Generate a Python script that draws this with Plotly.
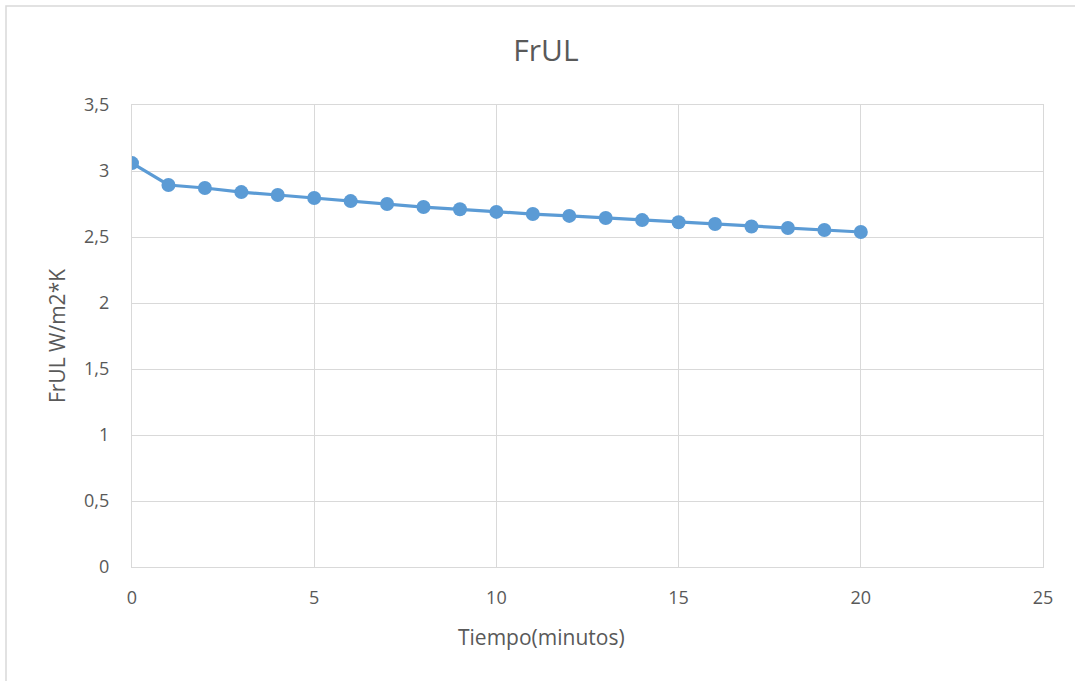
import plotly.graph_objects as go

tiempo = list(range(0, 21))
frul = [3.06, 2.894, 2.871, 2.84, 2.818, 2.795, 2.772, 2.75, 2.727, 2.71, 2.69,
        2.674, 2.66, 2.644, 2.628, 2.612, 2.598, 2.58, 2.568, 2.553, 2.538]

W, H = 1075, 681
L, R, T, B = 132, 1043, 105, 567
pw, ph = R - L, B - T

fig = go.Figure()
fig.add_trace(go.Scatter(
    x=tiempo, y=frul, mode="lines+markers",
    line=dict(color="#5B9BD5", width=3.2),
    marker=dict(color="#5B9BD5", size=14),
    showlegend=False, hoverinfo="skip"))

grey = "#d9d9d9"
txt = "#595959"
font = "Open Sans, Noto Sans, sans-serif"

fig.update_layout(
    width=W, height=H,
    margin=dict(l=L, r=W - R, t=T, b=H - B),
    paper_bgcolor="white", plot_bgcolor="white",
    font=dict(family=font, color=txt, size=18),
    title=dict(text="FrUL", x=546 / W, xref="container",
               y=1 - 50 / H, yanchor="middle", xanchor="center",
               font=dict(size=30, color=txt, family=font)),
    separators=",.",
)
fig.update_xaxes(
    range=[0, 25], dtick=5, tick0=0,
    showgrid=True, gridcolor=grey, gridwidth=1.3,
    showline=True, linecolor=grey, linewidth=1.3, mirror=True,
    zeroline=False, ticks="", ticklabelstandoff=14,
    tickfont=dict(size=18, color=txt),
)
fig.update_yaxes(
    range=[0, 3.5], dtick=0.5, tick0=0,
    showgrid=True, gridcolor=grey, gridwidth=1.3,
    showline=True, linecolor=grey, linewidth=1.3, mirror=True,
    zeroline=False, ticks="", ticklabelstandoff=18,
    tickformat=".1~f",
    tickfont=dict(size=18, color=txt),
    title=dict(text="FrUL W/m2*K", font=dict(size=21, color=txt), standoff=12),
)

# x-axis title (offset left like the original)
fig.add_annotation(text="Tiempo(minutos)", xref="paper", yref="paper",
                   x=(541 - L) / pw, y=-(637 - B) / ph,
                   xanchor="center", yanchor="middle", showarrow=False,
                   font=dict(size=21, color=txt, family=font))

# outer chart frame (left and top edges visible)
fig.add_shape(type="rect", xref="paper", yref="paper",
              x0=(6 - L) / pw, x1=(1090 - L) / pw,
              y0=-(700 - B) / ph, y1=1 + (T - 6) / ph,
              line=dict(color=grey, width=1.5), fillcolor="rgba(0,0,0,0)", layer="below")

fig.write_html("out.html")
